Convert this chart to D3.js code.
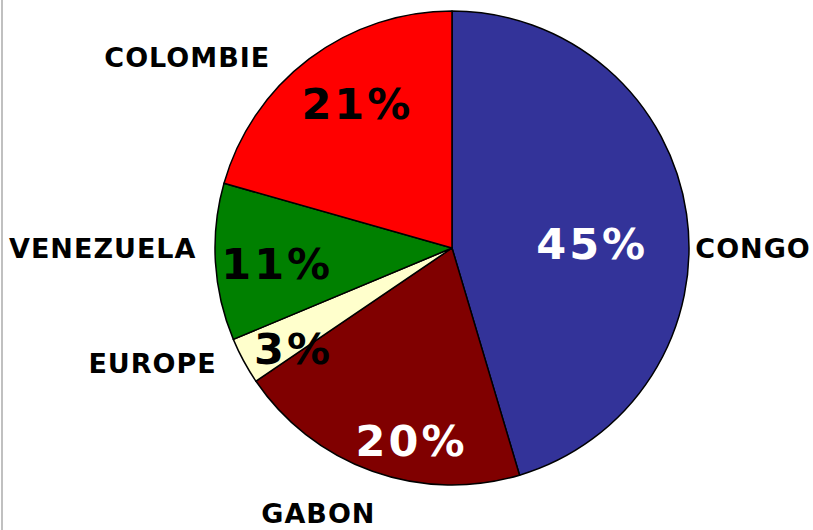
<!DOCTYPE html>
<html>
<head>
<meta charset="utf-8">
<script src="https://cdn.jsdelivr.net/npm/d3@7"></script>
<style>
  html, body { margin: 0; padding: 0; background: #fff; }
  svg { display: block; }
  .cat { font-family: "DejaVu Sans", Verdana, sans-serif; font-weight: bold; font-size: 27px; letter-spacing: 1px; }
  .pct { font-family: "DejaVu Sans", Verdana, sans-serif; font-weight: bold; font-size: 43px; letter-spacing: 3px; }
</style>
</head>
<body>
<svg id="chart"></svg>
<script>
const categories = ["CONGO", "GABON", "EUROPE", "VENEZUELA", "COLOMBIE"];
const values = [45.4, 20.1, 3.2, 10.7, 20.6];
const colors = ["#333399", "#800000", "#ffffcc", "#008000", "#ff0000"];
const pctColors = ["#fff", "#fff", "#000", "#000", "#000"];

const width = 813, height = 530;
const cx = 452, cy = 248, radius = 237;

// small hand nudges so labels sit where the original put them
const catNudge = { CONGO: [-9, 37], GABON: [-48, 25], EUROPE: [-11, -6], VENEZUELA: [-1, -15], COLOMBIE: [-28, 13] };
const pctNudge = { CONGO: [-38, 21], GABON: [20, 23], EUROPE: [0, 15], VENEZUELA: [5, 5], COLOMBIE: [14, -1] };

const svg = d3.select("#chart").attr("width", width).attr("height", height);

// frame edge on the left
svg.append("line")
    .attr("x1", 2).attr("x2", 2).attr("y1", 0).attr("y2", height)
    .attr("stroke", "#c0c0c0").attr("stroke-width", 2);

const total = d3.sum(values);
const rows = categories.map((c, i) => ({ name: c, value: values[i], color: colors[i], pctColor: pctColors[i] }));

const pie = d3.pie().sort(null).value(d => d.value);
const arc = d3.arc().innerRadius(0).outerRadius(radius);
const arcs = pie(rows);

const g = svg.append("g").attr("transform", `translate(${cx},${cy})`);

g.selectAll("path.slice")
    .data(arcs)
    .enter()
    .append("path")
    .attr("class", "slice")
    .attr("d", arc)
    .attr("fill", d => d.data.color)
    .attr("stroke", "#000")
    .attr("stroke-width", 1.5)
    .attr("stroke-linejoin", "round");

const polar = (a, r) => [Math.sin(a) * r, -Math.cos(a) * r];
const mid = d => (d.startAngle + d.endAngle) / 2;

// percentages inside the slices
g.selectAll("text.pct")
    .data(arcs)
    .enter()
    .append("text")
    .attr("class", "pct")
    .attr("text-anchor", "middle")
    .attr("dy", "0.36em")
    .attr("fill", d => d.data.pctColor)
    .attr("transform", d => {
        const [x, y] = polar(mid(d), radius * 0.76);
        const n = pctNudge[d.data.name];
        return `translate(${x + n[0]},${y + n[1]})`;
    })
    .text(d => Math.round(d.data.value / total * 100) + "%");

// category names outside
g.selectAll("text.cat")
    .data(arcs)
    .enter()
    .append("text")
    .attr("class", "cat")
    .attr("dy", "0.36em")
    .attr("text-anchor", d => {
        const s = Math.sin(mid(d));
        return s > 0.4 ? "start" : s < -0.4 ? "end" : "middle";
    })
    .attr("transform", d => {
        const [x, y] = polar(mid(d), radius + 18);
        const n = catNudge[d.data.name];
        return `translate(${x + n[0]},${y + n[1]})`;
    })
    .text(d => d.data.name);
</script>
</body>
</html>
